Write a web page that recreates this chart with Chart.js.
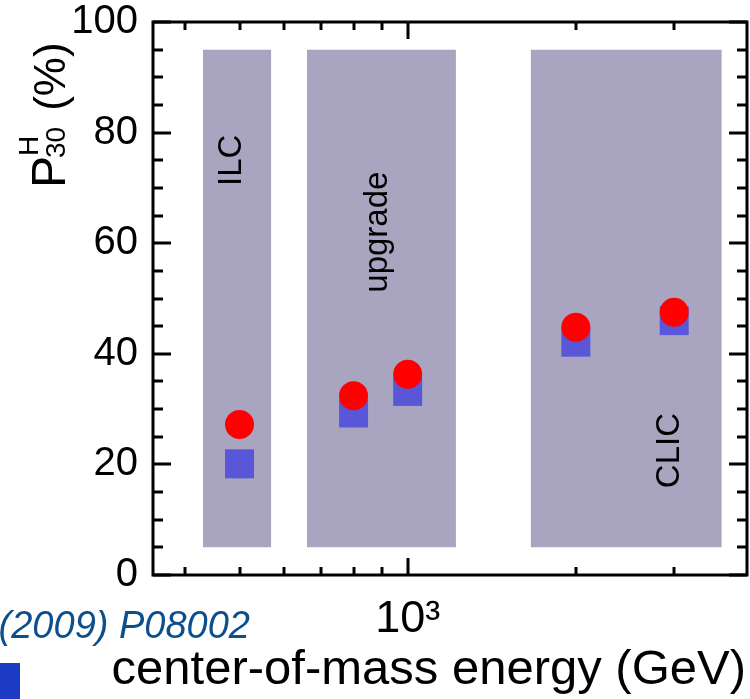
<!DOCTYPE html>
<html>
<head>
<meta charset="utf-8">
<title>P30H vs center-of-mass energy</title>
<script src="https://cdn.jsdelivr.net/npm/chart.js@4.4.1/dist/chart.umd.min.js"></script>
<style>
  html, body { margin: 0; padding: 0; background: #fff; }
  canvas { display: block; }
</style>
</head>
<body>
<canvas id="chart" width="750" height="699"></canvas>
<script>
// energies (GeV) and P30H (%) for the two samples
const energies = [500, 800, 1000, 2000, 3000];
const circleVals = [27.2, 32.4, 36.3, 44.8, 47.5];
const squareVals = [20.1, 29.3, 33.2, 42.1, 46.0];

// machine regions (GeV), shaded from 5% to 95%
const bandNames = ['ILC', 'upgrade', 'CLIC'];
const bandFrom = [430, 660, 1660];
const bandTo = [570, 1220, 3650];
const bandLow = 5;
const bandHigh = 95;

// axis ticks
const yLabelTicks = [0, 20, 40, 60, 80, 100];
const yMinorStep = 5;
const xLabelTicks = [1000];
const xMinorTicks = [400, 500, 600, 700, 800, 900, 2000, 3000];

const FONT = '"Liberation Sans", Arial, Helvetica, sans-serif';
const BAND_COLOR = '#a9a5c0';

// where the band names sit (data units)
const bandLabelAt = [
  { x: 484, y: 75 },
  { x: 885, y: 62 },
  { x: 2950, y: 22.5 }
];

const bandSets = bandNames.map((name, i) => ({
  type: 'line',
  label: name,
  data: [{ x: bandFrom[i], y: bandHigh }, { x: bandTo[i], y: bandHigh }],
  fill: { value: bandLow },
  backgroundColor: BAND_COLOR,
  borderColor: 'rgba(0,0,0,0)',
  borderWidth: 0,
  pointRadius: 0,
  order: 2
}));

// keep the plot box fixed: no extra room for edge labels
function noEdgePadding(s) {
  s.paddingTop = 0;
  s.paddingBottom = 0;
  s.paddingLeft = 0;
  s.paddingRight = 0;
}

// frame, inward ticks, band names, axis titles and the slide fragments
const decorPlugin = {
  id: 'decor',
  afterDraw(chart) {
    const { ctx, chartArea: a, scales } = chart;
    const xs = scales.x, ys = scales.y;
    ctx.save();

    // band names
    ctx.fillStyle = '#000';
    ctx.font = '33px ' + FONT;
    ctx.textAlign = 'center';
    ctx.textBaseline = 'middle';
    bandNames.forEach((name, i) => {
      const px = xs.getPixelForValue(bandLabelAt[i].x);
      const py = ys.getPixelForValue(bandLabelAt[i].y);
      ctx.save();
      ctx.translate(px, py);
      ctx.rotate(-Math.PI / 2);
      ctx.fillText(name, 0, 0);
      ctx.restore();
    });

    // ticks pointing into the plot
    ctx.strokeStyle = '#000';
    ctx.lineWidth = 3;
    ctx.beginPath();
    for (let v = 0; v <= 100; v += yMinorStep) {
      const py = Math.round(ys.getPixelForValue(v));
      const len = yLabelTicks.includes(v) ? 18 : 10;
      ctx.moveTo(a.left, py); ctx.lineTo(a.left + len, py);
      ctx.moveTo(a.right, py); ctx.lineTo(a.right - len, py);
    }
    xMinorTicks.concat(xLabelTicks).forEach(v => {
      const px = Math.round(xs.getPixelForValue(v));
      const len = xLabelTicks.includes(v) ? 17 : 8;
      ctx.moveTo(px, a.bottom); ctx.lineTo(px, a.bottom - len);
      ctx.moveTo(px, a.top); ctx.lineTo(px, a.top + len);
    });
    ctx.stroke();

    // frame
    ctx.strokeRect(a.left, a.top, a.right - a.left, a.bottom - a.top);

    // x title
    ctx.font = '49px ' + FONT;
    ctx.textAlign = 'right';
    ctx.textBaseline = 'alphabetic';
    ctx.fillText('center-of-mass energy (GeV)', 746, 684);

    // y title: P with sub 30 and sup H, then (%)
    ctx.translate(65, 188);
    ctx.rotate(-Math.PI / 2);
    ctx.textAlign = 'left';
    ctx.font = '48px ' + FONT;
    ctx.fillText('P', 0, 0);
    const wP = ctx.measureText('P').width;
    ctx.font = '28px ' + FONT;
    ctx.fillText('30', wP - 2, 0);
    ctx.fillText('H', wP, -27);
    const wSub = ctx.measureText('30').width;
    ctx.font = '44px ' + FONT;
    ctx.fillText('(%)', wP + wSub + 14, 0);
    ctx.restore();

    // reference line and marker at the lower left
    ctx.save();
    ctx.fillStyle = '#0d4f8b';
    ctx.font = 'italic 38px ' + FONT;
    ctx.textAlign = 'right';
    ctx.textBaseline = 'alphabetic';
    ctx.fillText('(2009) P08002', 250, 638);
    ctx.fillStyle = '#1c3bc4';
    ctx.fillRect(0, 663, 20, 36);
    ctx.restore();
  }
};

new Chart(document.getElementById('chart'), {
  type: 'scatter',
  data: {
    datasets: [
      {
        label: 'circle',
        data: energies.map((e, i) => ({ x: e, y: circleVals[i] })),
        pointStyle: 'circle',
        pointRadius: 14.5,
        pointHoverRadius: 14.5,
        backgroundColor: '#ff0000',
        borderColor: '#ff0000',
        borderWidth: 0,
        order: 0
      },
      {
        label: 'square',
        data: energies.map((e, i) => ({ x: e, y: squareVals[i] })),
        pointStyle: 'rect',
        pointRadius: 20.5,
        pointHoverRadius: 20.5,
        backgroundColor: '#5a56d8',
        borderColor: '#5a56d8',
        borderWidth: 0,
        order: 1
      },
      ...bandSets
    ]
  },
  options: {
    responsive: false,
    animation: false,
    events: [],
    layout: { autoPadding: false, padding: { top: 22, right: 3, left: 0, bottom: 0 } },
    plugins: { legend: { display: false }, tooltip: { enabled: false } },
    scales: {
      x: {
        type: 'logarithmic',
        min: 350,
        max: 4050,
        grid: { display: false, drawTicks: false },
        border: { display: false },
        afterBuildTicks: s => { s.ticks = xLabelTicks.map(v => ({ value: v })); },
        afterFit: s => { s.height = 124; noEdgePadding(s); },
        ticks: {
          autoSkip: false,
          maxRotation: 0,
          padding: 18,
          color: '#000',
          font: { family: FONT, size: 45 },
          callback: v => (v === 1000 ? '10\u00B3' : '')
        }
      },
      y: {
        min: 0,
        max: 100,
        grid: { display: false, drawTicks: false },
        border: { display: false },
        afterBuildTicks: s => { s.ticks = yLabelTicks.map(v => ({ value: v })); },
        afterFit: s => { s.width = 153; noEdgePadding(s); },
        ticks: {
          padding: 15,
          color: '#000',
          font: { family: FONT, size: 40 }
        }
      }
    }
  },
  plugins: [decorPlugin]
});
</script>
</body>
</html>
